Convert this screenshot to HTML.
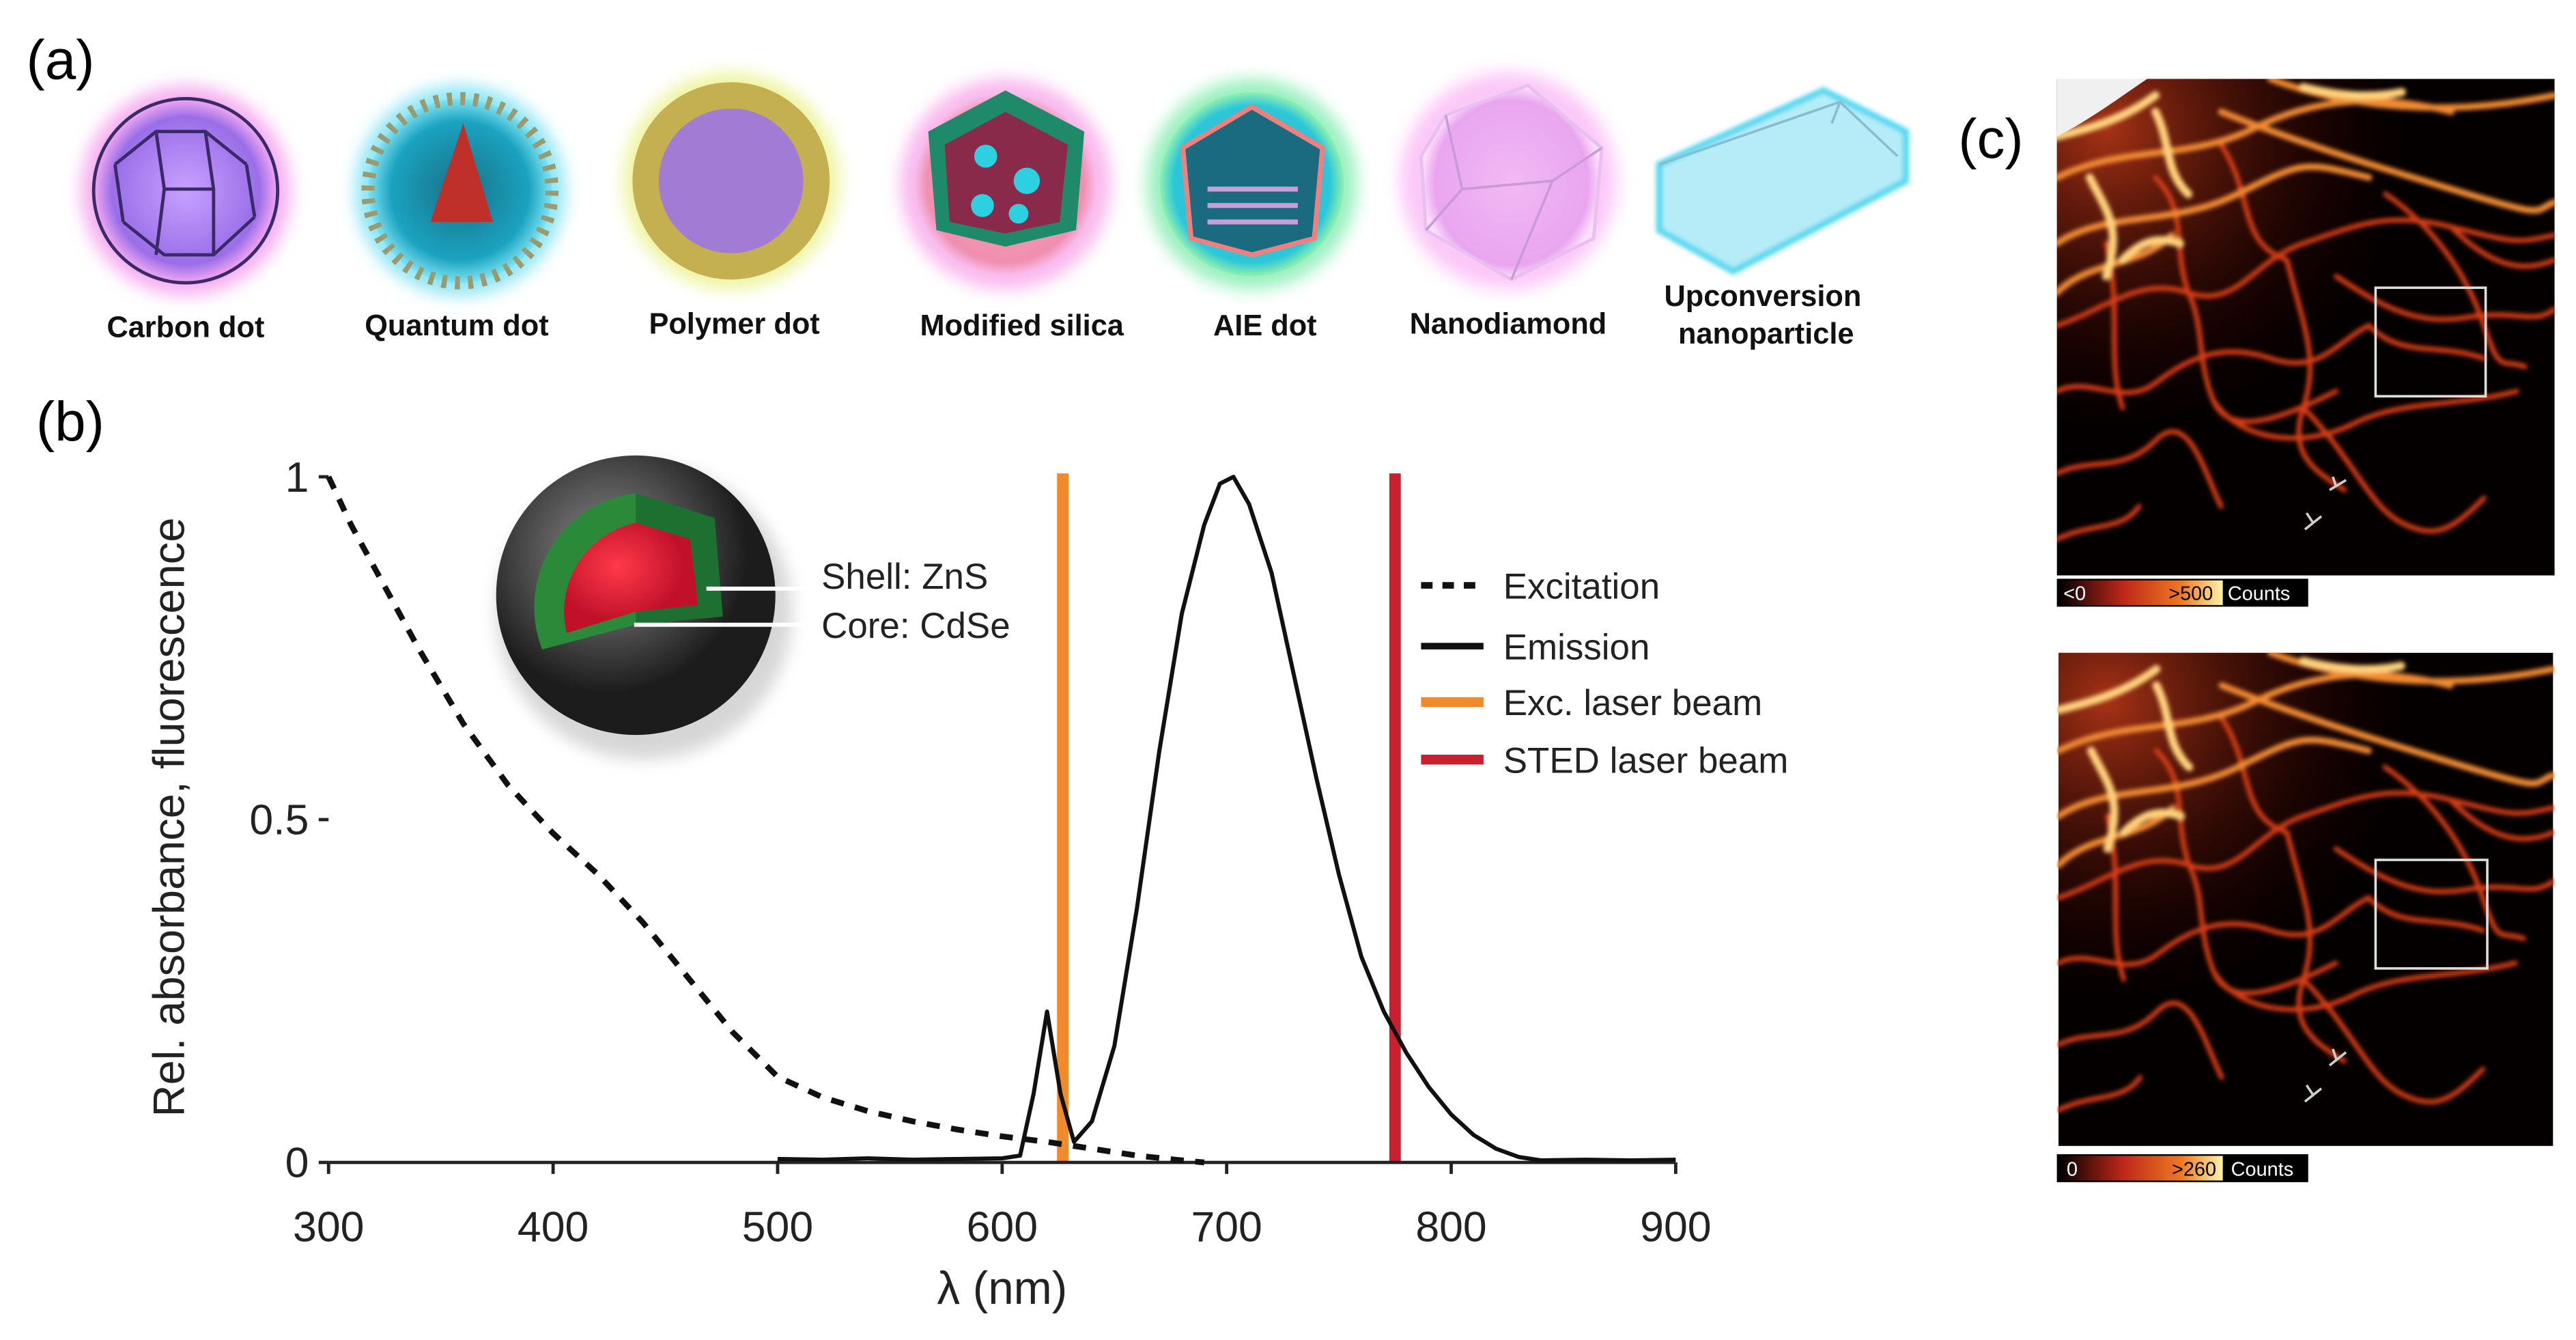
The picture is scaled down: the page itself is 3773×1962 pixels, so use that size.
<!DOCTYPE html>
<html><head><meta charset="utf-8"><style>
html,body{margin:0;padding:0;background:#fff}
svg{display:block}
text{font-family:"Liberation Sans",sans-serif}
</style></head><body>
<svg width="3773" height="1962" viewBox="0 0 1568 815" preserveAspectRatio="none">
<defs>
<radialGradient id="gCarbon"><stop offset="0" stop-color="#c9a0ff"/><stop offset="0.8" stop-color="#9a6ee8"/><stop offset="1" stop-color="#f3a8f0"/></radialGradient>
<radialGradient id="gQuant"><stop offset="0" stop-color="#1b6f86"/><stop offset="0.75" stop-color="#1aa3c0"/><stop offset="1" stop-color="#7fe3f3"/></radialGradient>
<radialGradient id="gSil"><stop offset="0" stop-color="#f4a4b6"/><stop offset="0.85" stop-color="#f08fb0"/><stop offset="1" stop-color="#f8c0f0"/></radialGradient>
<radialGradient id="gAie"><stop offset="0" stop-color="#2ab8c8"/><stop offset="0.85" stop-color="#2cc7d8"/><stop offset="1" stop-color="#8ef0b0"/></radialGradient>
<radialGradient id="gDia"><stop offset="0" stop-color="#f2b8f4"/><stop offset="0.85" stop-color="#e9a6ef"/><stop offset="1" stop-color="#fde0fc"/></radialGradient>
<radialGradient id="gSphere" cx="0.4" cy="0.35"><stop offset="0" stop-color="#8a8a8a"/><stop offset="0.6" stop-color="#4a4a4a"/><stop offset="1" stop-color="#1c1c1c"/></radialGradient>
<radialGradient id="gCore" cx="0.4" cy="0.4"><stop offset="0" stop-color="#ff3a4a"/><stop offset="1" stop-color="#c0102a"/></radialGradient>
<radialGradient id="gGlow" cx="0.1" cy="0.1" r="0.6"><stop offset="0" stop-color="#b83818" stop-opacity="0.9"/><stop offset="1" stop-color="#300" stop-opacity="0"/></radialGradient>
<linearGradient id="gBar1" x1="0" x2="1"><stop offset="0" stop-color="#000"/><stop offset="0.4" stop-color="#c0281a"/><stop offset="0.75" stop-color="#ee7a22"/><stop offset="1" stop-color="#fff2a8"/></linearGradient>
<filter id="blur2"><feGaussianBlur stdDeviation="1.3"/></filter>
<filter id="blur6"><feGaussianBlur stdDeviation="5"/></filter>
<g id="fil">
<rect x="0" y="0" width="303" height="302" fill="#050000"/>
<rect x="0" y="0" width="303" height="302" fill="url(#gGlow)"/>
<g fill="none" stroke-linecap="round" filter="url(#blur2)">
<g stroke="#d83c18" stroke-width="3">
<path d="M0 150 C30 140 50 120 80 130 S120 110 150 100 S200 80 240 90 S280 100 303 95"/>
<path d="M0 190 C20 180 40 200 60 185 S100 160 130 170 S170 160 190 150"/>
<path d="M80 130 C90 150 85 170 95 195 S140 205 170 190"/>
<path d="M95 195 C110 220 150 225 180 210 S240 200 280 190"/>
<path d="M140 110 C150 150 160 170 150 200 S160 240 175 250"/>
<path d="M150 200 C180 230 190 260 210 270 S240 275 260 255"/>
<path d="M170 120 C200 140 220 150 250 145 S290 150 303 140"/>
<path d="M200 70 C230 90 250 120 260 150 S270 170 285 175"/>
<path d="M0 240 C20 230 40 240 60 220 S90 240 100 260"/>
<path d="M0 280 C20 270 40 275 50 260"/>
<path d="M190 150 C210 170 230 160 260 170"/>
<path d="M240 90 C260 110 280 120 303 110"/>
<path d="M100 40 C120 70 110 100 140 110"/>
<path d="M60 60 C80 80 70 100 80 130"/>
<path d="M30 100 C40 140 30 170 40 200"/>
</g>
<g stroke="#f08a30" stroke-width="4">
<path d="M0 60 C40 40 80 50 120 30 S200 10 240 20"/>
<path d="M0 100 C30 80 70 90 110 70 S150 50 190 60"/>
<path d="M100 20 C150 40 200 55 250 70 S290 80 303 75"/>
<path d="M130 0 C170 15 230 25 303 10"/>
<path d="M0 130 C20 110 50 115 70 95"/>
</g>
<g stroke="#ffd27a" stroke-width="5">
<path d="M0 35 C20 30 40 25 60 10"/>
<path d="M20 60 C30 80 40 90 30 120"/>
<path d="M60 20 C70 40 65 55 80 70"/>
<path d="M150 5 C170 10 190 12 210 8"/>
<path d="M40 110 C50 100 60 95 75 100"/>
</g>
</g>
</g>
</defs>

<!-- Panel a -->
<text x="16" y="48" font-size="34">(a)</text>
<g>
<circle cx="113" cy="116" r="64" fill="#f6b0f0" filter="url(#blur6)"/>
<circle cx="113" cy="116" r="56" fill="url(#gCarbon)" stroke="#3a2a6a" stroke-width="2"/>
<path d="M70 100 L95 80 L125 80 L150 100 M75 135 L100 155 L130 155 L155 132 M95 80 L100 115 L95 155 M125 80 L130 115 L130 155 M70 100 L75 135 M150 100 L155 132 M100 115 L130 115" stroke="#3a2a6a" stroke-width="2" fill="none"/>
</g>
<g>
<circle cx="280" cy="116" r="64" fill="#8fe6f5" filter="url(#blur6)"/>
<circle cx="280" cy="116" r="56" fill="url(#gQuant)"/>
<circle cx="280" cy="116" r="56" fill="none" stroke="#9a9a70" stroke-width="8" stroke-dasharray="3 5"/>
<path d="M262 135 L282 75 L300 135Z" fill="#c0302a"/>
</g>
<g>
<circle cx="445" cy="110" r="66" fill="#eef5a0" filter="url(#blur6)"/>
<circle cx="445" cy="110" r="60" fill="#c4b050"/>
<circle cx="445" cy="110" r="44" fill="#a27cd4"/>
</g>
<g>
<circle cx="612" cy="112" r="64" fill="#f9b8ee" filter="url(#blur6)"/>
<circle cx="612" cy="112" r="56" fill="url(#gSil)"/>
<path d="M565 80 L612 55 L660 80 L655 140 L612 150 L570 140Z" fill="#1e8a6a"/>
<path d="M575 88 L612 68 L650 88 L645 135 L612 142 L578 135Z" fill="#8a2a4a"/>
<circle cx="600" cy="95" r="7" fill="#2cd0e0"/><circle cx="625" cy="110" r="8" fill="#2cd0e0"/><circle cx="598" cy="125" r="7" fill="#2cd0e0"/><circle cx="620" cy="130" r="6" fill="#2cd0e0"/>
</g>
<g>
<circle cx="762" cy="112" r="64" fill="#9af0c0" filter="url(#blur6)"/>
<circle cx="762" cy="112" r="56" fill="url(#gAie)"/>
<path d="M720 90 L762 65 L805 90 L800 145 L762 155 L725 145Z" fill="#1a6a80" stroke="#f08080" stroke-width="3"/>
<path d="M735 115 L790 115 M735 125 L790 125 M735 135 L790 135" stroke="#c8a0d8" stroke-width="3"/>
</g>
<g>
<circle cx="918" cy="110" r="66" fill="#fbc8f8" filter="url(#blur6)"/>
<path d="M880 70 L930 52 L975 90 L970 145 L920 170 L868 140 L865 95Z" fill="url(#gDia)" stroke="#e8c0f0" stroke-width="2"/>
<path d="M880 70 L890 115 L945 110 L975 90 M890 115 L868 140 M945 110 L920 170" stroke="#c89ad8" stroke-width="1.5" fill="none"/>
</g>
<g>
<path d="M1010 100 L1110 55 L1160 80 L1160 110 L1055 165 L1010 140Z" fill="#b5ecf7" stroke="#55d8f0" stroke-width="4" filter="url(#blur2)"/>
<path d="M1010 100 L1120 62 L1155 95 M1120 62 L1115 75" stroke="#88bcd0" stroke-width="1.5" fill="none"/>
</g>
<g font-size="18" font-weight="bold" text-anchor="middle" fill="#111">
<text x="113" y="205">Carbon dot</text>
<text x="278" y="204">Quantum dot</text>
<text x="447" y="203">Polymer dot</text>
<text x="622" y="204">Modified silica</text>
<text x="770" y="204">AIE dot</text>
<text x="918" y="203">Nanodiamond</text>
<text x="1073" y="186">Upconversion</text>
<text x="1075" y="209">nanoparticle</text>
</g>

<!-- Panel c -->
<text x="1192" y="96" font-size="34">(c)</text>
<g>
<svg x="1252" y="48" width="303" height="302" viewBox="0 0 303 302"><use href="#fil"/><path d="M0 0 L55 0 C40 10 20 25 0 35Z" fill="#f0f0f0"/></svg>
<rect x="1446" y="175" width="67" height="66" fill="none" stroke="#ddd" stroke-width="1.5"/>
<path d="M1403 322 L1413 314 M1408 318 L1404 312 M1418 298 L1428 292 M1422 296 L1420 290" stroke="#ccc" stroke-width="1.5"/>
<rect x="1252" y="352" width="153" height="17" fill="#000"/>
<rect x="1253" y="353" width="100" height="15" fill="url(#gBar1)"/>
<text x="1256" y="365" font-size="12" fill="#fff">&lt;0</text>
<text x="1320" y="365" font-size="12" fill="#000">&gt;500</text>
<text x="1356" y="365" font-size="12" fill="#fff">Counts</text>
</g>
<g>
<svg x="1252" y="397" width="303" height="300" viewBox="0 0 303 302"><use href="#fil"/></svg>
<rect x="1446" y="523" width="68" height="66" fill="none" stroke="#ddd" stroke-width="1.5"/>
<path d="M1403 670 L1413 662 M1408 666 L1404 660 M1418 648 L1428 640 M1422 644 L1420 638" stroke="#ccc" stroke-width="1.5"/>
<rect x="1252" y="702" width="153" height="17" fill="#000"/>
<rect x="1253" y="703" width="100" height="15" fill="url(#gBar1)"/>
<text x="1258" y="715" font-size="12" fill="#fff">0</text>
<text x="1322" y="715" font-size="12" fill="#000">&gt;260</text>
<text x="1358" y="715" font-size="12" fill="#fff">Counts</text>
</g>

<!-- Panel b -->
<text x="22" y="268" font-size="34">(b)</text>
<g id="chart"></g>
<g>
<circle cx="392" cy="372" r="90" fill="#bbb" filter="url(#blur6)" opacity="0.6"/>
<circle cx="387" cy="362" r="85" fill="url(#gSphere)"/>
<path d="M387 300 A70 70 0 0 0 330 395 L387 380Z" fill="#2a8a3a"/>
<path d="M387 300 L435 315 L440 375 L387 380Z" fill="#1e7030"/>
<path d="M387 318 L420 328 L425 368 L387 372 L345 385 A55 55 0 0 1 387 318Z" fill="url(#gCore)"/>
<path d="M430 358 L495 358 M386 380 L495 380" stroke="#fff" stroke-width="2.5"/>
<text x="500" y="358" font-size="22" fill="#222">Shell: ZnS</text>
<text x="500" y="388" font-size="22" fill="#222">Core: CdSe</text>
</g>
<g font-size="22" fill="#222">
<g><path d="M865 356 L903 356" stroke="#111" stroke-width="4" stroke-dasharray="7 6"/><text x="915" y="364">Excitation</text></g>
<g><path d="M865 393 L903 393" stroke="#111" stroke-width="4"/><text x="915" y="401">Emission</text></g>
<g><path d="M865 427 L903 427" stroke="#f08a2a" stroke-width="6"/><text x="915" y="435">Exc. laser beam</text></g>
<g><path d="M865 462 L903 462" stroke="#c8202e" stroke-width="6"/><text x="915" y="470">STED laser beam</text></g>
</g>
</svg>
<script>
const xTicks=[300,400,500,600,700,800,900];
const yTicks=[0,0.5,1];
const yTickLabels=["0","0.5","1"];
const excWl=[300,310,320,340,360,380,400,420,440,460,480,500,520,540,560,580,600,620,640,660,680,690];
const excVal=[1,0.93,0.87,0.75,0.64,0.55,0.48,0.42,0.35,0.27,0.19,0.125,0.095,0.075,0.06,0.048,0.038,0.03,0.02,0.01,0.003,0];
const emWl=[500,520,540,560,580,600,608,614,620,626,632,640,650,660,670,680,690,697,703,710,720,730,740,750,760,770,780,790,800,810,820,830,840,860,880,900];
const emVal=[0.005,0.004,0.006,0.004,0.005,0.006,0.01,0.1,0.22,0.1,0.03,0.06,0.17,0.37,0.6,0.8,0.93,0.99,1.0,0.96,0.86,0.71,0.56,0.42,0.3,0.22,0.16,0.11,0.07,0.04,0.02,0.008,0.003,0.004,0.003,0.004];
const laserWl=[627,775];
const laserColors=["#f08a2a","#c8202e"];
const NS="http://www.w3.org/2000/svg";
const X=v=>200+(v-300)*(820/600);
const Y=v=>707-v*417;
const g=document.getElementById('chart');
function mk(t,a){const e=document.createElementNS(NS,t);for(const k in a)e.setAttribute(k,a[k]);g.appendChild(e);return e;}
laserWl.forEach((w,i)=>{const l=mk('line',{x1:X(w),x2:X(w),y1:Y(1.005),y2:Y(0),stroke:laserColors[i],'stroke-width':7});

});
const ax=mk('line',{x1:X(300),x2:X(900),y1:Y(0),y2:Y(0),stroke:'#222','stroke-width':2});


xTicks.forEach(t=>{const tk=mk('line',{x1:X(t),x2:X(t),y1:Y(0),y2:Y(0)+7,stroke:'#222','stroke-width':2});


const tl=mk('text',{x:X(t),y:755,'font-size':26,'text-anchor':'middle',fill:'#222'});tl.textContent=t;

});
yTicks.forEach((t,i)=>{const tk=mk('line',{x1:X(300)-6,x2:X(300),y1:Y(t),y2:Y(t),stroke:'#222','stroke-width':2});


const tl=mk('text',{x:X(300)-12,y:Y(t)+9,'font-size':26,'text-anchor':'end',fill:'#222'});tl.textContent=yTickLabels[i];

});
const pe=mk('path',{d:excWl.map((w,i)=>(i?'L':'M')+X(w)+' '+Y(excVal[i])).join(''),fill:'none',stroke:'#111','stroke-width':3.5,'stroke-dasharray':'8 7'});


const pm=mk('path',{d:emWl.map((w,i)=>(i?'L':'M')+X(w)+' '+Y(emVal[i])).join(''),fill:'none',stroke:'#111','stroke-width':2.5,'stroke-linejoin':'round'});


const xl=mk('text',{x:610,y:793,'font-size':28,'text-anchor':'middle',fill:'#222'});xl.textContent='λ (nm)';


const yl=mk('text',{x:0,y:0,'font-size':27,'text-anchor':'middle',fill:'#222',transform:'translate(112,497) rotate(-90)'});yl.textContent='Rel. absorbance, fluorescence';


</script>
</body></html>
